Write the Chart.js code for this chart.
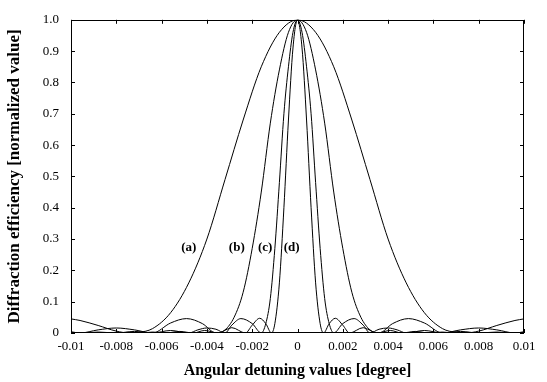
<!DOCTYPE html>
<html><head><meta charset="utf-8">
<script src="https://cdn.jsdelivr.net/npm/chart.js@4/dist/chart.umd.min.js"></script>
<style>html,body{margin:0;padding:0;background:#fff;}#wrap{width:547px;height:382px;}</style>
</head><body><div id="wrap"><canvas id="c" width="547" height="382"></canvas></div>
<script>
// ---- data ----
const xTickLabels = ['-0.01','-0.008','-0.006','-0.004','-0.002','0','0.002','0.004','0.006','0.008','0.01'];
const yTickLabels = ['0','0.1','0.2','0.3','0.4','0.5','0.6','0.7','0.8','0.9','1.0'];

const curveLabels = ['(a)','(b)','(c)','(d)'];
const labelX = [-0.0048,-0.00268,-0.00143,-0.00026];
const labelY = [0.272,0.272,0.272,0.272];

const aX = [-0.01,-0.0096,-0.0088,-0.008,-0.0074,-0.007,-0.0064,-0.0056,-0.0048,-0.004,-0.0032,-0.0024,-0.0016,-0.0008,0,0.0008,0.0016,0.0024,0.0032,0.004,0.0048,0.0056,0.0064,0.007,0.0074,0.008,0.0088,0.0096,0.01];
const aY = [0.045,0.04,0.024,0.006,0,0.002,0.014,0.065,0.16,0.30,0.49,0.68,0.85,0.96,1,0.96,0.85,0.68,0.49,0.30,0.16,0.065,0.014,0.002,0,0.006,0.024,0.04,0.045];

const bX = [-0.01,-0.0096,-0.0088,-0.008,-0.0072,-0.0064,-0.0056,-0.0049,-0.0042,-0.0036,-0.0032,-0.0028,-0.0024,-0.002,-0.0016,-0.0012,-0.0008,-0.0004,0,0.0004,0.0008,0.0012,0.0016,0.002,0.0024,0.0028,0.0032,0.0036,0.0042,0.0049,0.0056,0.0064,0.0072,0.008,0.0088,0.0096,0.01];
const bY = [0.004,0,0.01,0.016,0.01,0,0.032,0.046,0.03,0,0.01,0.05,0.13,0.27,0.45,0.67,0.84,0.96,1,0.96,0.84,0.67,0.45,0.27,0.13,0.05,0.01,0,0.03,0.046,0.032,0,0.01,0.016,0.01,0,0.004];

const cX = [-0.01,-0.0096,-0.0088,-0.008,-0.0072,-0.0064,-0.0056,-0.0048,-0.0044,-0.004,-0.0036,-0.0032,-0.0029,-0.0025,-0.002,-0.0016,-0.0014,-0.0012,-0.001,-0.0008,-0.0006,-0.0004,-0.0002,0,0.0002,0.0004,0.0006,0.0008,0.001,0.0012,0.0014,0.0016,0.002,0.0025,0.0029,0.0032,0.0036,0.004,0.0044,0.0048,0.0056,0.0064,0.0072,0.008,0.0088,0.0096,0.01];
const cY = [0.001,0,0.003,0,0.005,0,0.008,0,0.01,0.016,0.012,0,0.025,0.046,0.03,0,0.03,0.11,0.27,0.48,0.70,0.85,0.96,1,0.96,0.85,0.70,0.48,0.27,0.11,0.03,0,0.03,0.046,0.025,0,0.012,0.016,0.01,0,0.008,0,0.005,0,0.003,0,0.001];

const dX = [-0.01,-0.0098,-0.0092,-0.0087,-0.0081,-0.0075,-0.0069,-0.0064,-0.0058,-0.0052,-0.0046,-0.0041,-0.0035,-0.0029,-0.0023,-0.002,-0.00167,-0.0014,-0.00115,-0.001,-0.0008,-0.0006,-0.0004,-0.0002,0,0.0002,0.0004,0.0006,0.0008,0.001,0.00115,0.0014,0.00167,0.002,0.0023,0.0029,0.0035,0.0041,0.0046,0.0052,0.0058,0.0064,0.0069,0.0075,0.0081,0.0087,0.0092,0.0098,0.01];
const dY = [0.001,0.001,0,0.0015,0,0.002,0,0.003,0,0.005,0,0.008,0,0.017,0,0.025,0.047,0.03,0,0.03,0.16,0.40,0.68,0.91,1,0.91,0.68,0.40,0.16,0.03,0,0.03,0.047,0.025,0,0.017,0,0.008,0,0.005,0,0.003,0,0.002,0,0.0015,0,0.001,0.001];

// ---- chart ----
const pts = (xs, ys) => xs.map((x, i) => ({x: x, y: ys[i]}));
const series = [[aX,aY],[bX,bY],[cX,cY],[dX,dY]];
const serif = 'Liberation Serif';

const frame = {
  id: 'frame',
  afterDatasetsDraw(chart) {
    const {ctx, chartArea: a, scales: {x, y}} = chart;
    ctx.save();
    ctx.strokeStyle = '#000';
    ctx.lineWidth = 1;
    ctx.strokeRect(Math.round(a.left) + 0.5, Math.round(a.top) + 0.5, Math.round(a.right - a.left) - 1, Math.round(a.bottom - a.top) - 1);
    const L = 4;
    ctx.beginPath();
    x.ticks.forEach(t => {
      const px = Math.round(x.getPixelForValue(t.value)) + 0.5;
      ctx.moveTo(px, a.bottom); ctx.lineTo(px, a.bottom - L);
      ctx.moveTo(px, a.top); ctx.lineTo(px, a.top + L);
    });
    y.ticks.forEach(t => {
      const py = Math.round(y.getPixelForValue(t.value)) + 0.5;
      ctx.moveTo(a.left, py); ctx.lineTo(a.left + L, py);
      ctx.moveTo(a.right, py); ctx.lineTo(a.right - L, py);
    });
    ctx.stroke();
    ctx.fillStyle = '#000';
    ctx.font = 'bold 13px "' + serif + '"';
    ctx.textAlign = 'center';
    ctx.textBaseline = 'middle';
    curveLabels.forEach((s, i) => {
      ctx.fillText(s, x.getPixelForValue(labelX[i]), y.getPixelForValue(labelY[i]));
    });
    ctx.restore();
  }
};

new Chart(document.getElementById('c'), {
  type: 'scatter',
  data: {
    datasets: series.map(([xs, ys]) => ({
      data: pts(xs, ys),
      showLine: true,
      borderColor: '#000',
      borderWidth: 1,
      pointRadius: 0,
      cubicInterpolationMode: 'monotone',
      fill: false
    }))
  },
  options: {
    responsive: false,
    animation: false,
    devicePixelRatio: 1,
    layout: {padding: {left: 0, right: 23, top: 14, bottom: 0}},
    plugins: {legend: {display: false}, tooltip: {enabled: false}},
    scales: {
      x: {
        type: 'linear', min: -0.01, max: 0.01,
        afterFit: s => { s.height = 49; },
        ticks: {stepSize: 0.002, autoSkip: false, maxRotation: 0, padding: 6, color: '#000',
          font: {family: serif, size: 13},
          callback: (v, i) => xTickLabels[i]},
        grid: {display: false, drawTicks: false},
        border: {display: false},
        title: {display: true, text: 'Angular detuning values [degree]', color: '#000',
          font: {family: serif, size: 16, weight: 'bold'}, padding: {top: 3, bottom: 2}}
      },
      y: {
        type: 'linear', min: 0, max: 1,
        afterFit: s => { s.width = 71; },
        ticks: {stepSize: 0.1, autoSkip: false, padding: 12, color: '#000',
          font: {family: serif, size: 13},
          callback: (v, i) => yTickLabels[i]},
        grid: {display: false, drawTicks: false},
        border: {display: false},
        title: {display: true, text: 'Diffraction efficiency [normalized value]', color: '#000',
          font: {family: serif, size: 17, weight: 'bold'}, padding: {top: 4, bottom: 4}}
      }
    }
  },
  plugins: [frame]
});
</script></body></html>
